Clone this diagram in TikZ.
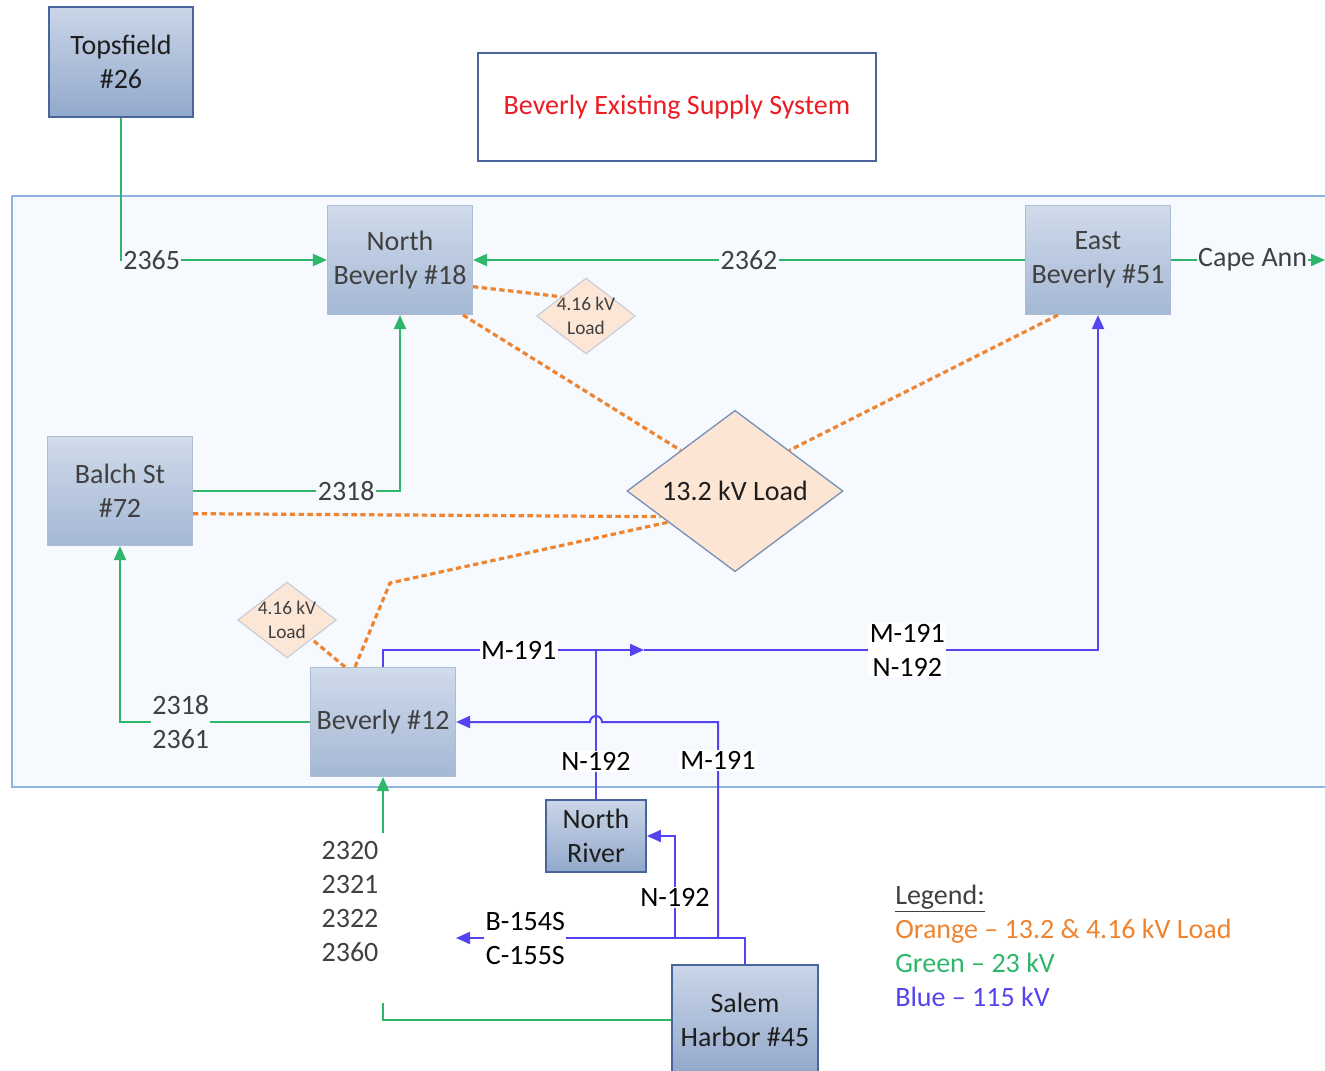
\documentclass[tikz,border=0pt]{standalone}
\usepackage{fontspec}
\setmainfont{Carlito}
\usetikzlibrary{shapes.geometric,arrows.meta}

\definecolor{verde23}{RGB}{46,182,106}
\definecolor{azul115}{RGB}{84,68,240}
\definecolor{naranja}{RGB}{238,132,48}
\definecolor{fondo}{RGB}{246,249,253}
\definecolor{marco}{RGB}{142,180,225}
\definecolor{rojo}{RGB}{236,28,36}
\definecolor{melocoton}{RGB}{252,229,210}
\definecolor{textogris}{RGB}{64,64,64}
\definecolor{bordeext}{RGB}{72,102,155}
\definecolor{bordeint}{RGB}{172,188,210}
\definecolor{bordecarga}{RGB}{120,145,185}
\definecolor{claroext}{RGB}{202,214,232}
\definecolor{oscuroext}{RGB}{146,168,203}
\definecolor{claroint}{RGB}{208,219,235}
\definecolor{oscuroint}{RGB}{164,183,212}

\begin{document}
\begin{tikzpicture}[x=0.75pt, y=-0.75pt,
    font=\fontsize{21}{25.5}\selectfont,
    subext/.style={rectangle, draw=bordeext, line width=1.4pt, top color=claroext,
        bottom color=oscuroext, minimum width=108pt, minimum height=82pt,
        align=center, text={rgb,255:red,30;green,30;blue,30}},
    subint/.style={rectangle, draw=bordeint, line width=0.6pt, top color=claroint,
        bottom color=oscuroint, minimum width=109pt, minimum height=82pt,
        align=center, text=textogris},
    carga13/.style={diamond, draw=bordecarga, line width=1pt, fill=melocoton,
        aspect=1.34, minimum width=162pt, minimum height=121pt, inner sep=0pt,
        text={rgb,255:red,30;green,30;blue,30}},
    carga4/.style={diamond, draw={rgb,255:red,196;green,202;blue,216}, line width=0.8pt,
        fill={rgb,255:red,252;green,231;blue,214}, aspect=1.3, minimum width=74pt,
        minimum height=57pt, inner sep=0pt,
        label={[font=\fontsize{14.5}{17.5}\selectfont, text=textogris, align=center]center:{4.16 kV\\Load}}},
    l23/.style={verde23, line width=1.5pt},
    l115/.style={azul115, line width=1.5pt},
    carga/.style={naranja, line width=2.4pt, dash pattern=on 4pt off 2.6pt},
    flecha/.style={-{Triangle[length=10.5pt,width=9pt]}},
    et23/.style={fill=fondo, inner sep=1pt, text=textogris, align=center},
    et115/.style={fill=white, inner sep=1pt, text=black, align=center}]

    \useasboundingbox (0,0) rectangle (1325,1071);

    % Zona de Beverly
    \draw[marco, fill=fondo, line width=1.5pt] (12,196) rectangle (1345,787);

    % Titulo
    \node[draw=bordeext, line width=1.5pt, fill=white, minimum width=298pt,
        minimum height=81pt, text=rojo] (titulo) at (677,107) {Beverly Existing Supply System};

    % Subestaciones
    \node[subext] (T26) at (121,62) {Topsfield\\\#26};
    \node[subint] (NB18) at (400,260) {North\\Beverly \#18};
    \node[subint] (EB51) at (1098,260) {East\\Beverly \#51};
    \node[subint] (B72) at (120,491) {Balch St\\\#72};
    \node[subint] (B12) at (383,722) {Beverly \#12};
    \node[subext, minimum width=75pt, minimum height=54pt] (NR) at (596,836) {North\\River};
    \node[subext, minimum width=109pt] (SH) at (745,1020) {Salem\\Harbor \#45};

    % Cargas
    \node[carga13] (L13) at (735,491) {13.2 kV Load};
    \node[carga4] (D1) at (586,316) {};
    \node[carga4] (D2) at (287,620) {};

    % Lineas de carga (naranja)
    \coordinate (quiebre) at (390,583);
    \draw[carga] ([yshift=-20pt]NB18.east) -- (D1.north west);
    \draw[carga] ([xshift=-7.5pt]NB18.south east) -- (L13.north west);
    \draw[carga] ([xshift=-30pt]EB51.south) -- (L13.north east);
    \draw[carga] ([yshift=-17pt]B72.east) -- (L13.199);
    \draw[carga] ([xshift=-21pt]B12.north) -- (quiebre) -- (L13.205);
    \draw[carga] ([xshift=-28.5pt]B12.north) -- (D2.south east);

    % Lineas de 23 kV (verde)
    \coordinate (capeann) at (1325,260);
    \coordinate (g1) at (383,1003);
    \coordinate (g2) at (383,833);
    \draw[l23, flecha] (T26.south) |- node[et23, pos=0.5, anchor=west] {2365} (NB18.west);
    \draw[l23, flecha] (EB51.west) -- node[et23] {2362} (NB18.east);
    \draw[l23, flecha] (EB51.east) -- node[et23, pos=0.53] {Cape Ann} (capeann);
    \draw[l23, flecha] (B72.east) -| node[et23, pos=0.37] {2318} (NB18.south);
    \draw[l23, flecha] (B12.west) -| node[et23, pos=0.34] {2318\\2361} (B72.south);
    \draw[l23] (SH.west) -| (g1);
    \draw[l23, flecha] (g2) -- (B12.south);
    \node[text=textogris, align=left] (lbl2320) at (350,902) {2320\\2321\\2322\\2360};

    % Lineas de 115 kV (azul)
    \coordinate (m1) at (644,650);
    \coordinate (j1) at (596,650);
    \coordinate (bc) at (456,938);
    \coordinate (j2) at (718,938);
    \coordinate (j3) at (675,938);
    \coordinate (c1) at (718,722);
    \coordinate (h1) at (602,722);
    \draw[l115, flecha] (B12.north) |- node[et115, pos=0.76] {M-191} (m1);
    \draw[l115, flecha] (m1) -| node[et115, pos=0.29] {M-191\\N-192} (EB51.south);
    \draw[l115] (j1) -- node[et115, pos=0.75] {N-192} (NR.north);
    \draw[l115, flecha] (SH.north) |- node[et115, pos=0.88] {B-154S\\C-155S} (bc);
    \draw[l115, flecha] (j2) -- node[et115, pos=0.82] {M-191} (c1) -- (h1)
        arc[start angle=0, end angle=180, radius=4.5pt] -- (B12.east);
    \draw[l115, flecha] (j3) |- node[et115, pos=0.2] {N-192} (NR.east);

    % Leyenda
    \node[anchor=north west, align=left, inner sep=0pt] (leyenda) at (895,885)
        {\textcolor{textogris}{\underline{Legend:}}\\
         \textcolor{naranja}{Orange -- 13.2 \& 4.16 kV Load}\\
         \textcolor{verde23}{Green -- 23 kV}\\
         \textcolor{azul115}{Blue -- 115 kV}};
\end{tikzpicture}
\end{document}
